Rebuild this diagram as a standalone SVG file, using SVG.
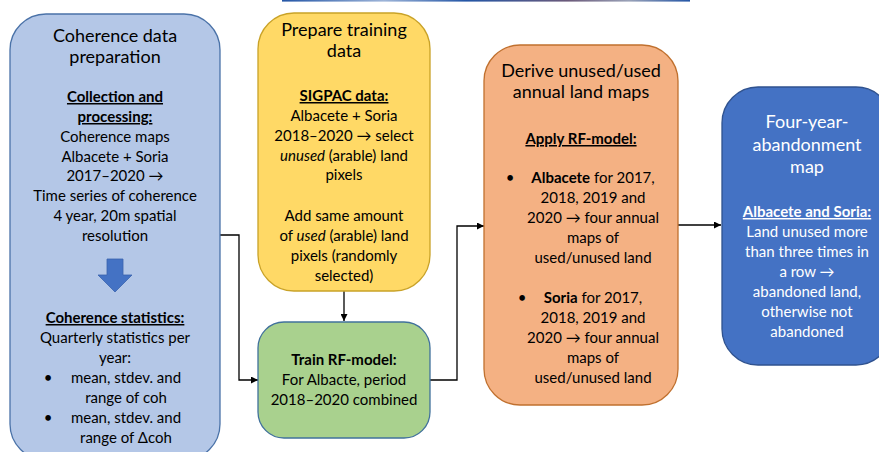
<svg xmlns="http://www.w3.org/2000/svg" width="879" height="452" viewBox="0 0 879 452">
  <defs>
    <marker id="arrow" viewBox="0 0 10 10" refX="10" refY="5" markerWidth="7" markerHeight="7" markerUnits="userSpaceOnUse" orient="auto">
      <path d="M0,0 L10,5 L0,10 z" fill="#000"/>
    </marker>
    <linearGradient id="strip" x1="0" y1="0" x2="1" y2="0">
      <stop offset="0" stop-color="#2456a6"/>
      <stop offset="0.25" stop-color="#9db4d8"/>
      <stop offset="0.45" stop-color="#2456a6"/>
      <stop offset="0.7" stop-color="#6b5a7a"/>
      <stop offset="0.85" stop-color="#9aa2b8"/>
      <stop offset="1" stop-color="#2456a6"/>
    </linearGradient>
  </defs>
  <style>
    text { font-family: Lato, "Liberation Sans", sans-serif; font-size: 15px; fill: #000; text-anchor: middle; }
    .title { font-size: 18px; }
    .head { font-weight: bold; text-decoration: underline; }
    .b { font-weight: bold; }
    .white text { fill: #fff; }
    .conn { fill: none; stroke: #000; stroke-width: 1.3; }
  </style>

  <!-- thin image strip along the top edge -->
  <rect x="282" y="0" width="408" height="1.6" fill="url(#strip)"/>

  <!-- connectors -->
  <g id="connectors">
    <polyline class="conn" points="220,235 239,235 239,380 258,380" marker-end="url(#arrow)"/>
    <line class="conn" x1="344" y1="291" x2="344" y2="321" marker-end="url(#arrow)"/>
    <polyline class="conn" points="430,380 457,380 457,226 484,226" marker-end="url(#arrow)"/>
    <line class="conn" x1="678" y1="225" x2="721" y2="225" marker-end="url(#arrow)"/>
  </g>

  <!-- coherence data preparation -->
  <g id="coherence">
    <rect x="10" y="14" width="210" height="446" rx="36" fill="#b4c7e7" stroke="#4a72a8" stroke-width="1.3"/>
    <text class="title" x="115" y="42">Coherence data</text>
    <text class="title" x="115" y="63">preparation</text>
    <text class="head" x="115" y="102">Collection and</text>
    <text class="head" x="115" y="122">processing:</text>
    <text x="115" y="142">Coherence maps</text>
    <text x="115" y="162">Albacete + Soria</text>
    <text x="115" y="181">2017–2020 →</text>
    <text x="115" y="201">Time series of coherence</text>
    <text x="115" y="221">4 year, 20m spatial</text>
    <text x="115" y="241">resolution</text>
    <path d="M107,259 L123,259 L123,275 L132,275 L115,292 L98,275 L107,275 z" fill="#4472c4" stroke="#3a63ad" stroke-width="0.8"/>
    <text class="head" x="115" y="323">Coherence statistics:</text>
    <text x="115" y="343">Quarterly statistics per</text>
    <text x="115" y="363">year:</text>
    <text x="48" y="383">•</text>
    <text x="126" y="383">mean, stdev. and</text>
    <text x="126" y="403">range of coh</text>
    <text x="48" y="423">•</text>
    <text x="126" y="423">mean, stdev. and</text>
    <text x="126" y="443">range of Δcoh</text>
  </g>

  <!-- prepare training data -->
  <g id="training">
    <rect x="258" y="13" width="172" height="278" rx="36" fill="#ffd966" stroke="#c9a227" stroke-width="1.3"/>
    <text class="title" x="344" y="36">Prepare training</text>
    <text class="title" x="344" y="57">data</text>
    <text class="head" x="344" y="101">SIGPAC data:</text>
    <text x="344" y="121">Albacete + Soria</text>
    <text x="344" y="141">2018–2020 → select</text>
    <text x="344" y="161"><tspan font-style="italic">unused</tspan> (arable) land</text>
    <text x="344" y="180">pixels</text>
    <text x="344" y="221">Add same amount</text>
    <text x="344" y="241">of <tspan font-style="italic">used</tspan> (arable) land</text>
    <text x="344" y="261">pixels (randomly</text>
    <text x="344" y="281">selected)</text>
  </g>

  <!-- train RF model -->
  <g id="train">
    <rect x="258" y="322" width="172" height="116" rx="26" fill="#a9d18e" stroke="#41719c" stroke-width="1.3"/>
    <text class="b" x="344" y="365">Train RF-model:</text>
    <text x="344" y="385">For Albacte, period</text>
    <text x="344" y="405">2018–2020 combined</text>
  </g>

  <!-- derive annual land maps -->
  <g id="derive">
    <rect x="484" y="45" width="194" height="360" rx="36" fill="#f4b183" stroke="#c0702e" stroke-width="1.3"/>
    <text class="title" x="581" y="77">Derive unused/used</text>
    <text class="title" x="581" y="98">annual land maps</text>
    <text class="head" x="581" y="144">Apply RF-model:</text>
    <text x="510" y="183">•</text>
    <text x="593" y="183"><tspan class="b">Albacete</tspan> for 2017,</text>
    <text x="593" y="203">2018, 2019 and</text>
    <text x="593" y="223">2020 → four annual</text>
    <text x="593" y="243">maps of</text>
    <text x="593" y="263">used/unused land</text>
    <text x="522" y="303">•</text>
    <text x="593" y="303"><tspan class="b">Soria</tspan> for 2017,</text>
    <text x="593" y="323">2018, 2019 and</text>
    <text x="593" y="343">2020 → four annual</text>
    <text x="593" y="363">maps of</text>
    <text x="593" y="383">used/unused land</text>
  </g>

  <!-- four-year abandonment map -->
  <g id="abandonment" class="white">
    <rect x="722" y="87" width="170" height="278" rx="36" fill="#4472c4" stroke="#2f528f" stroke-width="1.3"/>
    <text class="title" x="807" y="128">Four-year-</text>
    <text class="title" x="807" y="151">abandonment</text>
    <text class="title" x="807" y="173">map</text>
    <text class="head" x="807" y="217">Albacete and Soria:</text>
    <text x="807" y="237">Land unused more</text>
    <text x="807" y="257">than three times in</text>
    <text x="807" y="277">a row →</text>
    <text x="807" y="297">abandoned land,</text>
    <text x="807" y="317">otherwise not</text>
    <text x="807" y="337">abandoned</text>
  </g>
</svg>
